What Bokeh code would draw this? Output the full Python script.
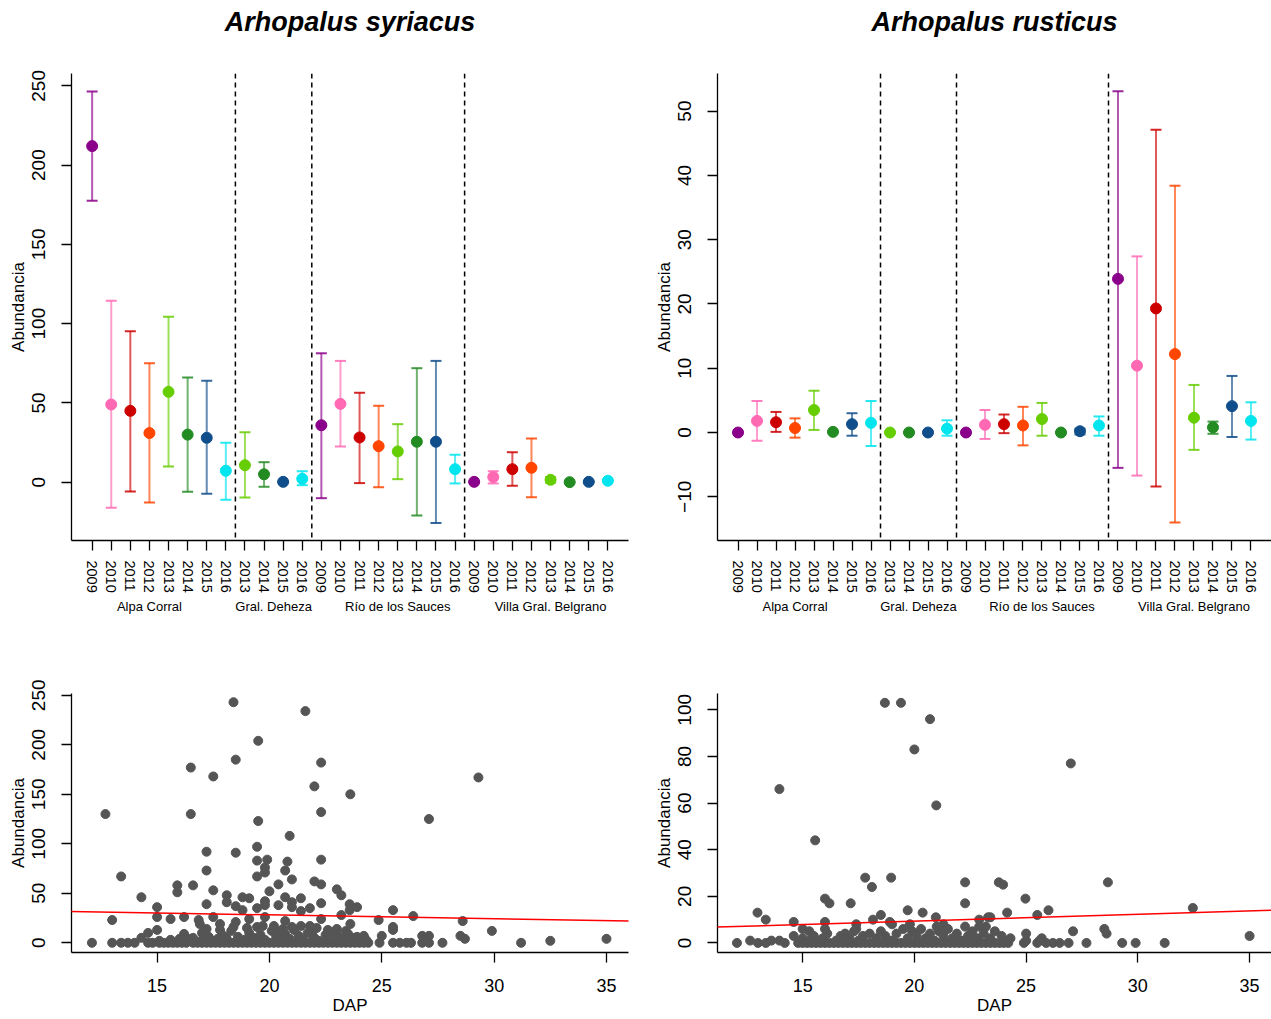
from bokeh.plotting import figure
from bokeh.models import Range1d, FixedTicker, LinearAxis, Span, Slope, ColumnDataSource, Title
from bokeh.layouts import column, row
from bokeh.embed import file_html
from bokeh.resources import INLINE

FONT = "Liberation Sans"

# ---------------- categories ----------------
years_alpa = [2009, 2010, 2011, 2012, 2013, 2014, 2015, 2016]
years_deheza = [2013, 2014, 2015, 2016]
years_rio = [2009, 2010, 2011, 2012, 2013, 2014, 2015, 2016]
years_villa = [2009, 2010, 2011, 2012, 2013, 2014, 2015, 2016]
site_names = ["Alpa Corral", "Gral. Deheza", "Río de los Sauces", "Villa Gral. Belgrano"]
site_label_pos = [4, 10.5, 17, 25]
site_breaks = [8.5, 12.5, 20.5]
year_colors = {2009: "#8B008B", 2010: "#FF69B4", 2011: "#CD0000", 2012: "#FF4500",
               2013: "#66CD00", 2014: "#228B22", 2015: "#104E8B", 2016: "#00E5EE"}

# ---------------- Arhopalus syriacus (mean, upper, lower) ----------------
syr_mean = [212, 49, 45, 31, 57, 30, 28, 7.2,
            10.7, 5.0, 0.2, 2.1,
            35.9, 49.4, 28.2, 22.7, 19.4, 25.5, 25.5, 8.2,
            0.2, 3.2, 8.2, 9.1, 1.5, 0.0, 0.2, 0.9]
syr_upper = [246.5, 114.5, 95.2, 75, 104.3, 66, 64, 24.8,
             31.5, 12.6, 0.2, 6.9,
             81.3, 76.5, 56.4, 48.2, 36.6, 71.9, 76.5, 17.3,
             0.2, 6.9, 18.9, 27.6, 3.3, 0.0, 0.2, 0.9]
syr_lower = [177.6, -16.1, -5.9, -12.8, 9.9, -6.1, -7.3, -11.1,
             -9.6, -2.9, 0.2, -1.9,
             -10.1, 22.5, -0.6, -3.2, 1.9, -21.0, -25.8, -0.8,
             0.2, -0.8, -2.3, -9.5, -0.3, 0.0, 0.2, 0.9]

# ---------------- Arhopalus rusticus (mean, upper, lower) ----------------
rus_mean = [0, 1.8, 1.6, 0.7, 3.5, 0.1, 1.3, 1.5,
            0, 0, 0, 0.6,
            0, 1.2, 1.3, 1.1, 2.1, 0, 0.2, 1.1,
            23.9, 10.4, 19.3, 12.2, 2.3, 0.8, 4.1, 1.8]
rus_upper = [0, 4.9, 3.2, 2.2, 6.5, 0.1, 3.0, 4.9,
             0, 0, 0, 1.9,
             0, 3.5, 2.8, 4.0, 4.6, 0, 0.6, 2.5,
             53.1, 27.4, 47.1, 38.4, 7.4, 1.7, 8.8, 4.7]
rus_lower = [0, -1.3, 0.1, -0.8, 0.4, 0.1, -0.5, -2.1,
             0, 0, 0, -0.5,
             0, -1.0, -0.1, -2.0, -0.5, 0, -0.3, -0.5,
             -5.5, -6.7, -8.4, -14.0, -2.7, -0.2, -0.7, -1.1]

# ---------------- scatter: DAP vs abundance, syriacus ----------------
syr_dap = [12.1, 12.7, 13.0, 13.4, 13.0, 13.4, 13.7, 14.0, 14.3, 14.3,
           14.6, 15.0, 15.0, 15.0, 15.6, 15.9, 15.9, 16.2, 16.2, 16.5,
           16.5, 16.6, 16.85, 16.9, 17.2, 17.2, 17.2, 17.2, 17.5, 17.5,
           17.5, 17.8, 17.8, 18.1, 18.1, 18.4, 18.5, 18.5, 18.5, 18.5,
           18.8, 18.8, 19.1, 19.1, 19.5, 19.5, 19.45, 19.45, 19.45, 19.45,
           19.45, 19.8, 19.8, 19.8, 19.8, 19.8, 19.9, 20.0, 20.4, 20.4,
           20.9, 20.7, 20.8, 20.7, 20.7, 21.0, 21.0, 21.0, 21.6, 21.4,
           21.4, 21.4, 21.8, 21.8, 22.0, 22.0, 22.3, 22.3, 22.3, 22.3,
           22.3, 22.3, 23.0, 23.2, 23.2, 23.57, 23.57, 23.9, 23.6, 23.6,
           24.86, 25.5, 25.5, 25.5, 25.0, 26.4, 27.1, 26.8, 27.1, 27.7,
           28.6, 28.5, 28.7, 29.3, 29.9, 31.2, 32.5, 35.0,
           14.6, 14.8, 15.1, 15.3, 15.5, 15.7, 15.9, 16.1, 16.3, 16.6,
           16.8, 17.0, 17.2, 17.4, 17.6, 17.8, 18.0, 18.2, 18.4, 18.6,
           18.8, 19.0, 19.2, 19.4, 19.6, 19.8, 20.0, 20.2, 20.4, 20.6,
           20.8, 21.0, 21.2, 21.4, 21.6, 21.8, 22.0, 22.2, 22.4, 22.6,
           22.8, 23.0, 23.2, 23.4, 23.6, 23.8, 24.0, 24.2, 24.4, 24.9,
           25.5, 25.8, 26.1, 26.3, 26.8, 27.1,
           15.1, 15.6, 16.0, 16.3, 16.6, 17.0, 17.3, 17.6, 17.9, 18.1,
           18.3, 18.6, 18.9, 19.1, 19.3, 19.6, 19.8, 20.1, 20.3, 20.5,
           20.7, 20.9, 21.1, 21.3, 21.5, 21.7, 22.0, 22.2, 22.5, 22.7,
           22.9, 23.1, 23.3, 23.5, 23.7, 24.0, 24.2, 19.0, 20.2, 20.6,
           21.0, 22.6, 23.0, 18.4, 17.0, 16.4, 19.7, 21.9, 20.4, 22.1,
           23.4, 23.9, 24.3, 18.0, 17.7]
syr_abund = [0, 130, 23, 67, 0, 0, 0, 0, 46, 5,
             10, 36, 26, 13, 24, 58, 51, 26, 9, 177,
             130, 58, 23, 19, 92, 73, 39, 14, 168, 53,
             26, 19, 13, 48, 41, 243, 185, 91, 37, 21,
             46, 33, 45, 24, 204, 123, 97, 83, 67, 35,
             16, 76, 71, 42, 38, 26, 84, 52, 59, 38,
             108, 73, 82, 46, 22, 64, 41, 36, 234, 45,
             32, 17, 35, 17, 62, 158, 182, 132, 84, 59,
             40, 24, 54, 48, 28, 39, 33, 36, 150, 19,
             23, 33, 16, 13, 7, 27, 125, 7, 7, 0,
             22, 7, 4, 167, 12, 0, 2, 4,
             0, 0, 0, 0, 0, 0, 0, 0, 0, 0,
             0, 0, 0, 0, 0, 0, 0, 0, 0, 0,
             0, 0, 0, 0, 0, 0, 0, 0, 0, 0,
             0, 0, 0, 0, 0, 0, 0, 0, 0, 0,
             0, 0, 0, 0, 0, 0, 0, 0, 0, 0,
             0, 0, 0, 0, 0, 0,
             2, 3, 4, 2, 5, 3, 6, 2, 8, 4,
             12, 6, 3, 10, 5, 8, 3, 12, 6, 2,
             9, 4, 13, 7, 3, 10, 5, 2, 8, 4,
             11, 6, 3, 9, 5, 2, 7, 15, 17, 14,
             16, 13, 14, 16, 10, 4, 17, 9, 11, 15,
             12, 6, 3, 6, 4]

# ---------------- scatter: DAP vs abundance, rusticus ----------------
rus_dap = [12.06, 12.65, 12.98, 13.0, 13.35, 13.35, 13.6, 13.96, 13.96, 14.2,
           14.6, 14.6, 15.0, 15.3, 15.56, 16.0, 16.2, 16.0, 16.0, 17.15,
           17.4, 17.4, 17.8, 18.1, 18.15, 18.5, 18.68, 18.96, 18.9, 19.0,
           19.4, 19.7, 19.8, 20.0, 20.37, 20.7, 20.98, 20.96, 21.0, 21.3,
           22.27, 22.27, 22.27, 22.9, 22.9, 23.3, 23.2, 23.78, 23.97, 24.15,
           23.4, 24.97, 25.5, 26.0, 25.0, 25.7, 27.0, 27.1, 27.7, 28.66,
           28.5, 28.6, 29.3, 29.9, 31.2, 32.46, 35.0,
           14.8, 15.0, 15.2, 15.4, 15.6, 15.8, 16.0, 16.2, 16.4, 16.6,
           16.8, 17.0, 17.2, 17.4, 17.6, 17.8, 18.0, 18.2, 18.4, 18.6,
           18.8, 19.0, 19.2, 19.4, 19.6, 19.8, 20.0, 20.2, 20.4, 20.6,
           20.8, 21.0, 21.2, 21.4, 21.6, 21.8, 22.0, 22.2, 22.4, 22.6,
           22.8, 23.0, 23.2, 23.4, 23.6, 23.8, 24.0, 24.2, 24.9, 25.5,
           25.9, 26.2, 26.5, 26.9,
           15.0, 15.3, 15.5, 15.9, 16.1, 16.5, 16.7, 16.9, 17.1, 17.3,
           17.5, 17.7, 18.0, 18.3, 18.5, 18.7, 19.0, 19.2, 19.5, 19.7,
           19.9, 20.1, 20.3, 20.5, 20.7, 20.9, 21.1, 21.3, 21.5, 21.7,
           21.9, 22.1, 22.4, 22.6, 22.8, 23.1, 23.4, 23.6, 23.9, 24.1,
           24.3, 25.0, 25.6]
rus_abund = [0, 1, 13, 0, 10, 0, 1, 66, 1, 0,
             9, 3, 6, 5, 44, 19, 17, 9, 6, 17,
             8, 6, 28, 24, 10, 12, 103, 28, 9, 8,
             103, 14, 8, 83, 13, 96, 59, 11, 7, 8,
             26, 17, 7, 10, 7, 11, 7, 26, 25, 13,
             11, 19, 12, 14, 4, 2, 77, 5, 0, 26,
             6, 4, 0, 0, 0, 15, 3,
             0, 0, 0, 0, 0, 0, 0, 0, 0, 0,
             0, 0, 0, 0, 0, 0, 0, 0, 0, 0,
             0, 0, 0, 0, 0, 0, 0, 0, 0, 0,
             0, 0, 0, 0, 0, 0, 0, 0, 0, 0,
             0, 0, 0, 0, 0, 0, 0, 0, 0, 0,
             0, 0, 0, 0,
             2, 1, 3, 2, 4, 1, 3, 4, 2, 5,
             1, 3, 4, 2, 5, 3, 1, 4, 6, 2,
             5, 3, 6, 2, 4, 1, 5, 3, 6, 2,
             4, 1, 3, 5, 2, 4, 2, 5, 3, 1,
             2, 1, 1]

# linear fits (abline)
syr_fit_slope, syr_fit_intercept = -0.39, 36.0
rus_fit_slope, rus_fit_intercept = 0.29, 3.55

year_labels = [str(y) for y in years_alpa + years_deheza + years_rio + years_villa]
year_list = years_alpa + years_deheza + years_rio + years_villa
positions = list(range(1, len(year_labels) + 1))


def style_axes(p):
    for ax in p.xaxis + p.yaxis:
        ax.axis_line_color = "black"
        ax.axis_line_width = 1.3
        ax.major_tick_line_color = "black"
        ax.major_tick_line_width = 1.3
        ax.major_tick_out = 10
        ax.major_tick_in = 0
        ax.minor_tick_line_color = None
        ax.major_label_text_font = FONT
        ax.major_label_text_color = "black"
        ax.axis_label_text_font = FONT
        ax.axis_label_text_font_style = "normal"
        ax.axis_label_text_color = "black"


def style_y(p, y_ticks):
    p.yaxis.ticker = FixedTicker(ticks=y_ticks)
    p.yaxis.major_label_orientation = "vertical"
    p.yaxis.major_label_text_font_size = "19px"
    p.yaxis.major_label_standoff = 16
    p.yaxis.axis_label = "Abundancia"
    p.yaxis.axis_label_text_font_size = "17px"
    p.yaxis.axis_label_standoff = 2


def top_panel(title, mean, upper, lower, y_rng, y_ticks, width, border_left, border_right):
    p = figure(width=width, height=640, x_range=Range1d(-0.08, 29.08),
               y_range=Range1d(*y_rng), output_backend="svg", toolbar_location=None,
               min_border_left=border_left, min_border_right=border_right,
               min_border_top=73, min_border_bottom=100)
    p.outline_line_color = None
    p.grid.grid_line_color = None
    style_axes(p)
    p.xaxis.ticker = FixedTicker(ticks=positions)
    p.xaxis.major_label_overrides = {i: lab for i, lab in zip(positions, year_labels)}
    p.xaxis.major_label_orientation = "vertical"
    p.xaxis.major_label_text_font_size = "14.5px"
    p.xaxis.major_label_standoff = 10
    style_y(p, y_ticks)

    gax = LinearAxis(ticker=FixedTicker(ticks=site_label_pos),
                     major_label_overrides={k: v for k, v in zip(site_label_pos, site_names)},
                     axis_line_color=None, major_tick_line_color=None,
                     minor_tick_line_color=None, major_tick_out=0, major_tick_in=0,
                     major_label_standoff=3, major_label_text_font=FONT,
                     major_label_text_font_size="13px", major_label_text_color="black")
    p.add_layout(gax, "below")

    # title text on the first of two lines, top-aligned, to sit high above the frame
    p.add_layout(Title(text=title + "\n", align="center", vertical_align="top",
                       standoff=10, text_font=FONT, text_font_style="bold italic",
                       text_font_size="27px", text_color="black"), "above")

    for b in site_breaks:
        p.add_layout(Span(location=b, dimension="height", line_color="black",
                          line_dash="5 4", line_width=1.5))

    src = ColumnDataSource(dict(x=positions, m=mean, up=upper, lo=lower,
                                c=[year_colors[y] for y in year_list]))
    p.segment(x0="x", y0="lo", x1="x", y1="up", line_color="c", line_width=2,
              line_alpha=0.65, source=src)
    p.scatter(x="x", y="up", marker="dash", size=11, line_color="c", line_width=2,
              line_alpha=0.85, source=src)
    p.scatter(x="x", y="lo", marker="dash", size=11, line_color="c", line_width=2,
              line_alpha=0.85, source=src)
    p.scatter(x="x", y="m", size=11, fill_color="c", line_color="c", source=src)
    return p


def bottom_panel(dap, abund, y_rng, y_ticks, width, border_left, border_right, slope, intercept):
    p = figure(width=width, height=379, x_range=Range1d(11.19, 35.98),
               y_range=Range1d(*y_rng), output_backend="svg", toolbar_location=None,
               min_border_left=border_left, min_border_right=border_right,
               min_border_top=53, min_border_bottom=67)
    p.outline_line_color = None
    p.grid.grid_line_color = None
    style_axes(p)
    p.xaxis.ticker = FixedTicker(ticks=[15, 20, 25, 30, 35])
    p.xaxis.major_label_text_font_size = "18px"
    p.xaxis.major_label_standoff = 16
    p.xaxis.axis_label = "DAP"
    p.xaxis.axis_label_text_font_size = "17px"
    p.xaxis.axis_label_standoff = 1
    style_y(p, y_ticks)
    p.scatter(dap, abund, size=9, fill_color="#555555", line_color="#555555")
    p.add_layout(Slope(gradient=slope, y_intercept=intercept, line_color="red",
                       line_width=1.5))
    return p


p1 = top_panel("Arhopalus syriacus", syr_mean, syr_upper, syr_lower,
               (-36.8, 257.8), [0, 50, 100, 150, 200, 250], 651, 71, 23)
p2 = top_panel("Arhopalus rusticus", rus_mean, rus_upper, rus_lower,
               (-16.8, 55.85), [-10, 0, 10, 20, 30, 40, 50], 620, 63, 0)
p3 = bottom_panel(syr_dap, syr_abund, (-9.8, 251.8), [0, 50, 100, 150, 200, 250],
                  651, 71, 23, syr_fit_slope, syr_fit_intercept)
p4 = bottom_panel(rus_dap, rus_abund, (-4.1, 107.0), [0, 20, 40, 60, 80, 100],
                  620, 64, 0, rus_fit_slope, rus_fit_intercept)

layout = column(row(p1, p2), row(p3, p4))
open("out.html", "w").write(file_html(layout, INLINE))
